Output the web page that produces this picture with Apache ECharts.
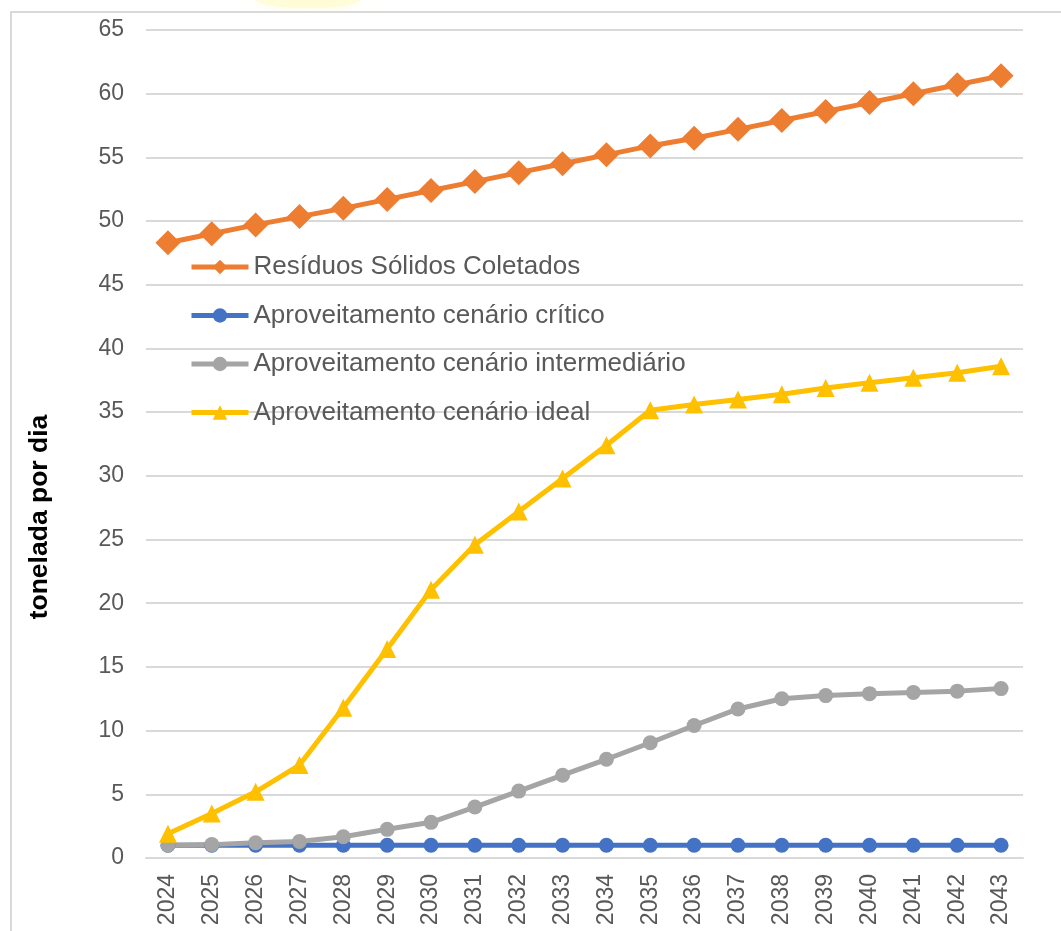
<!DOCTYPE html>
<html>
<head>
<meta charset="utf-8">
<title>Resíduos sólidos coletados e aproveitamento</title>
<script src="https://cdn.jsdelivr.net/npm/echarts@6/dist/echarts.min.js"></script>
<style>
  html, body { margin: 0; padding: 0; background: #ffffff; }
  #chart { width: 1061px; height: 931px; }
</style>
</head>
<body>
<div id="chart"></div>
<script>
// Anos da projeção
const anos = ['2024','2025','2026','2027','2028','2029','2030','2031','2032','2033',
              '2034','2035','2036','2037','2038','2039','2040','2041','2042','2043'];

// Toneladas por dia
const residuosColetados = [48.3, 49.0, 49.7, 50.35, 51.0, 51.7, 52.4, 53.1, 53.8, 54.5,
                           55.2, 55.9, 56.5, 57.2, 57.9, 58.6, 59.3, 60.0, 60.7, 61.4];
const cenarioCritico = [1.0, 1.0, 1.0, 1.0, 1.0, 1.0, 1.0, 1.0, 1.0, 1.0,
                        1.0, 1.0, 1.0, 1.0, 1.0, 1.0, 1.0, 1.0, 1.0, 1.0];
const cenarioIntermediario = [1.0, 1.05, 1.2, 1.3, 1.67, 2.25, 2.8, 4.0, 5.25, 6.5,
                              7.75, 9.05, 10.4, 11.7, 12.5, 12.75, 12.9, 13.0, 13.1, 13.3];
const cenarioIdeal = [1.9, 3.5, 5.2, 7.3, 11.8, 16.4, 21.05, 24.6, 27.2, 29.8,
                      32.4, 35.15, 35.6, 36.0, 36.4, 36.9, 37.3, 37.7, 38.1, 38.6];

const nomes = ['Resíduos Sólidos Coletados', 'Aproveitamento cenário crítico',
               'Aproveitamento cenário intermediário', 'Aproveitamento cenário ideal'];

const tituloEixoY = 'tonelada por dia';

const fonte = '"Liberation Sans", Arial, sans-serif';
const cinzaTexto = '#595959';
const cinzaGrade = '#d9d9d9';

function serie(nome, dados, cor, simbolo, tamanho) {
  return {
    name: nome,
    type: 'line',
    data: dados,
    symbol: simbolo,
    symbolSize: tamanho,
    showAllSymbol: true,
    lineStyle: { color: cor, width: 5 },
    itemStyle: { color: cor },
    emphasis: { disabled: true },
    animation: false
  };
}

const chart = echarts.init(document.getElementById('chart'), null, { renderer: 'canvas' });

chart.setOption({
  backgroundColor: '#ffffff',
  textStyle: { fontFamily: fonte },
  graphic: [
    {
      // brilho amarelado acima da moldura
      type: 'ellipse',
      shape: { cx: 308, cy: 0, rx: 52, ry: 8 },
      style: {
        fill: 'rgba(255,248,170,0.35)',
        shadowBlur: 22,
        shadowColor: 'rgba(255,246,150,0.9)'
      },
      z: -10, silent: true
    },
    {
      // moldura da área do gráfico
      type: 'rect',
      shape: { x: 11, y: 12, width: 1080, height: 960 },
      style: { fill: '#ffffff', stroke: cinzaGrade, lineWidth: 2 },
      z: -5, silent: true
    },
    {
      // título do eixo vertical
      type: 'text',
      x: 40,
      y: 517,
      rotation: Math.PI / 2,
      style: {
        text: tituloEixoY,
        font: 'bold 26.5px ' + fonte,
        fill: '#000000',
        align: 'center',
        verticalAlign: 'middle'
      },
      silent: true
    }
  ],
  grid: { left: 146, right: 38, top: 30, bottom: 73, containLabel: false },
  legend: {
    orient: 'vertical',
    left: 189,
    top: 253,
    padding: 0,
    itemWidth: 57,
    itemHeight: 18,
    itemGap: 20.5,
    lineStyle: { width: 5 },
    textStyle: { fontFamily: fonte, fontSize: 26, color: cinzaTexto, lineHeight: 28 },
    data: nomes,
    selectedMode: false
  },
  xAxis: {
    type: 'category',
    data: anos,
    boundaryGap: true,
    axisLine: { show: true, lineStyle: { color: cinzaGrade, width: 2 } },
    axisTick: { show: false },
    axisLabel: {
      rotate: 90,
      margin: 16,
      fontFamily: fonte,
      fontSize: 23,
      color: cinzaTexto,
      interval: 0
    }
  },
  yAxis: {
    type: 'value',
    min: 0,
    max: 65,
    interval: 5,
    axisLine: { show: false },
    axisTick: { show: false },
    splitLine: { lineStyle: { color: cinzaGrade, width: 2 } },
    axisLabel: { margin: 22, fontFamily: fonte, fontSize: 23, color: cinzaTexto }
  },
  series: [
    serie(nomes[0], residuosColetados, '#ED7D31', 'diamond', 25),
    serie(nomes[1], cenarioCritico, '#4472C4', 'circle', 15),
    serie(nomes[2], cenarioIntermediario, '#A5A5A5', 'circle', 15),
    serie(nomes[3], cenarioIdeal, '#FFC000', 'triangle', 18)
  ]
});
</script>
</body>
</html>
